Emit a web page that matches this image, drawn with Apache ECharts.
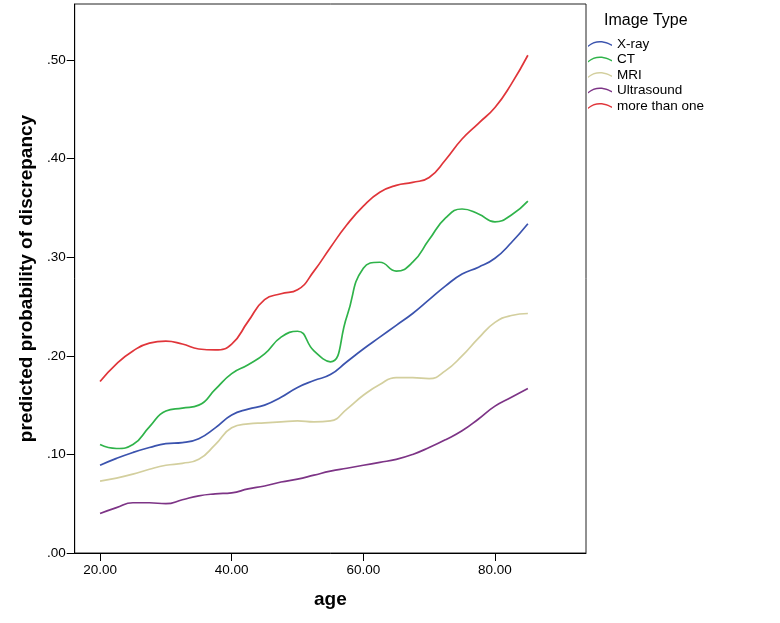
<!DOCTYPE html>
<html>
<head>
<meta charset="utf-8">
<script src="https://cdn.jsdelivr.net/npm/echarts@6/dist/echarts.min.js"></script>
<style>html,body{margin:0;padding:0;background:#fff}#c{width:780px;height:623px}</style>
</head>
<body>
<div id="c"></div>
<script>
const ages = [20,22.5,25,27.5,30,32.5,35,37.5,40,42.5,45,47.5,50,52.5,55,57.5,60,62.5,65,67.5,70,72.5,75,77.5,80,82.5,85];
const xray =  [.089,.096,.102,.107,.111,.112,.116,.127,.140,.146,.150,.158,.168,.175,.181,.194,.207,.219,.231,.243,.257,.271,.283,.290,.299,.315,.334];
const ct =    [.110,.106,.110,.128,.144,.147,.150,.166,.182,.191,.202,.219,.225,.205,.194,.240,.289,.295,.286,.295,.318,.340,.349,.344,.336,.343,.357];
const mri =   [.073,.076,.080,.085,.089,.091,.095,.110,.127,.131,.132,.133,.134,.133,.134,.146,.160,.171,.178,.178,.177,.185,.200,.218,.234,.241,.243];
const ultra = [.040,.046,.051,.051,.050,.054,.058,.060,.061,.065,.068,.072,.075,.079,.083,.086,.089,.092,.095,.100,.107,.115,.124,.136,.149,.158,.167];
const multi = [.174,.192,.205,.213,.215,.212,.207,.206,.212,.235,.257,.263,.267,.286,.310,.333,.352,.366,.373,.376,.381,.399,.420,.436,.452,.476,.505];
const seriesNames = ['X-ray','CT','MRI','Ultrasound','more than one'];
const seriesValues = [xray, ct, mri, ultra, multi];
const xTicks = [20,40,60,80];
const yTicks = [0,0.1,0.2,0.3,0.4,0.5];
const colors = ['#3B53AE','#2FB34A','#D3CF9E','#7D3486','#E0353A'];
const FONT = "'Liberation Sans', Arial, Helvetica, sans-serif";
const waveIcon = 'path://M0,5 C5,1 10,0 16,1 C19,1.5 22,3 24,4 L24,5.6 C22,4.6 19,3.1 16,2.6 C10,1.6 5,2.6 0,6.6 Z';

const chart = echarts.init(document.getElementById('c'));
chart.setOption({
  animation: false,
  color: colors,
  title: {
    text: 'Image Type', left: 604, top: 13, padding: 0,
    textStyle: {fontFamily: FONT, fontSize: 16, fontWeight: 'normal', color: '#000'}
  },
  legend: {
    orient: 'vertical', left: 588, top: 37, padding: 0, itemGap: 1.5,
    itemWidth: 24, itemHeight: 7, icon: waveIcon,
    textStyle: {fontFamily: FONT, fontSize: 13.5, color: '#000', lineHeight: 14, padding: [0,0,0,0]},
    data: seriesNames
  },
  grid: {left: 74.7, top: 4, right: 194, bottom: 70, show: true, borderColor: '#222', borderWidth: 1, containLabel: false},
  xAxis: {
    type: 'value', min: 16.15, max: 93.83,
    name: 'age', nameLocation: 'middle', nameGap: 37,
    nameTextStyle: {fontFamily: FONT, fontSize: 19, fontWeight: 'bold', color: '#000'},
    axisLine: {onZero: false, lineStyle: {color: '#000', width: 1}},
    axisTick: {show: true, length: 8, lineStyle: {color: '#000'}, customValues: xTicks},
    axisLabel: {customValues: xTicks, fontFamily: FONT, fontSize: 13.5, color: '#000', margin: 10,
      formatter: v => v.toFixed(2)},
    splitLine: {show: false}
  },
  yAxis: {
    type: 'value', min: 0, max: 0.557,
    name: 'predicted probability of discrepancy', nameLocation: 'middle', nameGap: 31,
    nameTextStyle: {fontFamily: FONT, fontSize: 19, fontWeight: 'bold', color: '#000'},
    axisLine: {show: true, onZero: false, lineStyle: {color: '#000', width: 1}},
    axisTick: {show: true, length: 8, lineStyle: {color: '#000'}, customValues: yTicks},
    axisLabel: {customValues: yTicks, fontFamily: FONT, fontSize: 13.5, color: '#000', margin: 9,
      formatter: v => v.toFixed(2).replace(/^0/, '')},
    splitLine: {show: false}
  },
  series: seriesNames.map((n, k) => ({
    name: n, type: 'line', smooth: 0.5, showSymbol: false, symbol: 'none',
    lineStyle: {width: 1.7, color: colors[k]},
    itemStyle: {color: colors[k]},
    data: ages.map((a, i) => [a, seriesValues[k][i]])
  }))
});
</script>
</body>
</html>
